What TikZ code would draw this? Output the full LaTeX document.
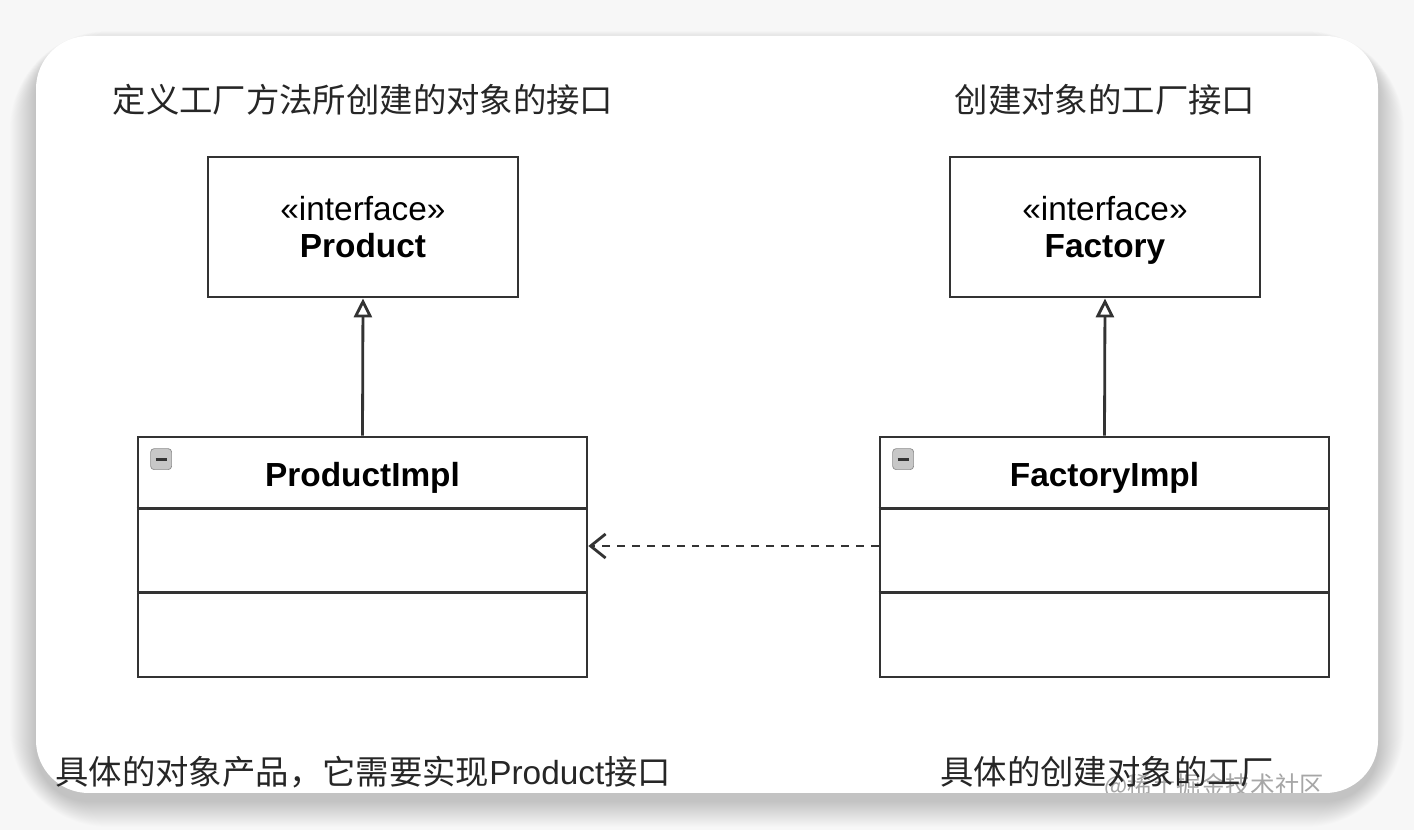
\documentclass[tikz,border=0pt]{standalone}
\usepackage{fontspec}
\setmainfont{Liberation Sans}
\newfontfamily\cjk{Noto Sans CJK SC}
\usetikzlibrary{arrows.meta}
\definecolor{umlline}{HTML}{333333}
\begin{document}
\begin{tikzpicture}[x=0.02cm,y=-0.02cm,
  box/.style={rectangle,draw=umlline,line width=1.6pt,fill=white,inner sep=0pt},
  iface/.style={box,minimum width=6.2cm,minimum height=2.8cm},
  impl/.style={box,minimum width=8.98cm,minimum height=4.8cm},
  note/.style={font=\fontsize{19pt}{22pt}\cjk,text=black!85,inner sep=0pt},
  label/.style={font=\fontsize{19pt}{22pt}\selectfont,inner sep=0pt},
  cls/.style={label,font=\fontsize{19pt}{22pt}\selectfont\bfseries}]
\useasboundingbox (0,0) rectangle (1414,830);
% page and card
\fill[black!3] (0,0) rectangle (1414,830);
\foreach \d in {1,...,26}
  \fill[black,opacity=0.007,rounded corners=30+\d] (36-\d,36-0.5*\d+8) rectangle (1378+\d,793+\d+8);
\fill[white,rounded corners=30] (36,36) rectangle (1378,793);
% watermark
\begin{scope}
\clip[rounded corners=30] (36,36) rectangle (1378,793);
\node[font=\fontsize{14pt}{16pt}\cjk,text=black!35,anchor=west] (mark) at (1098,786) {@稀土掘金技术社区};
\end{scope}
% notes, col, row
\node[note] (ptitle) at (363,100) {定义工厂方法所创建的对象的接口};
\node[note] (ftitle) at (1105,100) {创建对象的工厂接口};
\node[note,anchor=west] (pnote) at (55,772) {具体的对象产品，它需要实现{\fontsize{19pt}{22pt}\selectfont\rmfamily Product}接口};
\node[note,anchor=west] (fnote) at (940,772) {具体的创建对象的工厂};
% interfaces
\node[iface] (product) at (363,227) {};
\node[iface] (factory) at (1105,227) {};
\node[label] (pstereo) at (363,209) {«interface»};
\node[cls,anchor=base] (pname) at (363,258) {Product};
\node[label] (fstereo) at (1105,209) {«interface»};
\node[cls,anchor=base] (fname) at (1105,258) {Factory};
% classes
\node[impl] (pimpl) at (362.5,557) {};
\node[impl] (fimpl) at (1104.5,557) {};
\foreach \c in {pimpl,fimpl}{
  \draw[umlline,line width=1.6pt] (\c.north west) ++(0,73) -- ++(449,0);
  \draw[umlline,line width=1.6pt] (\c.north west) ++(0,157) -- ++(449,0);
  % collapse icon
  \draw[black!45,fill=black!22,rounded corners=2] (\c.north west) ++(14,13) rectangle ++(21,21);
  \draw[black!80,line width=1.6pt] (\c.north west) ++(19,23.5) -- ++(11,0);
}
\node[cls,anchor=base] (pimplname) at (362.5,487) {ProductImpl};
\node[cls,anchor=base] (fimplname) at (1104.5,487) {FactoryImpl};
% connectors
\draw[umlline,line width=1.6pt,-{Triangle[open,length=0.38cm,width=0.36cm]}] (pimpl.north) -- (product.south);
\draw[umlline,line width=1.6pt,-{Triangle[open,length=0.38cm,width=0.36cm]}] (fimpl.north) -- (factory.south);
\coordinate (dep) at (fimpl.west |- 0,546);
\draw[umlline,line width=1.6pt,dash pattern=on 4.5pt off 4pt,-{Straight Barb[length=0.3cm,width=0.48cm]}]
  (dep) -- (pimpl.east |- dep);
\end{tikzpicture}
\end{document}
